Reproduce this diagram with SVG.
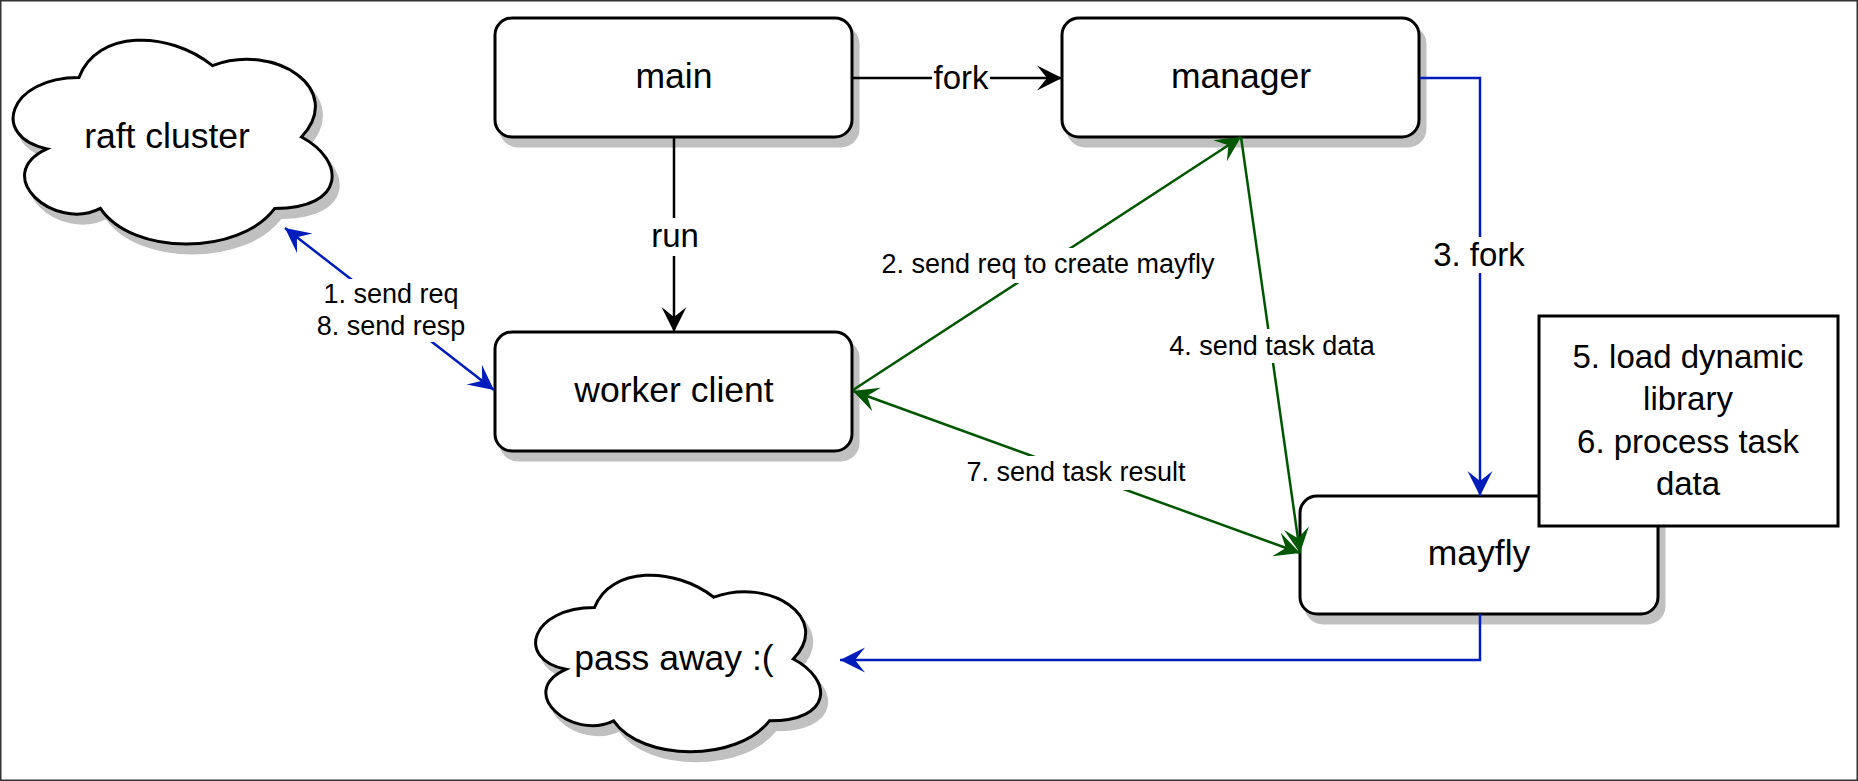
<svg xmlns="http://www.w3.org/2000/svg" xmlns:xlink="http://www.w3.org/1999/xlink" width="1858" height="781" viewBox="0 0 1858 781">
<style>
.box{fill:#ffffff;stroke:#000000;stroke-width:3}
.shadow{fill:#c0c0c0;stroke:#c0c0c0;stroke-width:3}
.t{font-family:"Liberation Sans",Arial,sans-serif;fill:#000000;text-anchor:middle}
.big{font-size:35.5px}
.mid{font-size:33px}
.sm{font-size:27px}
.blk{fill:none;stroke:#000000;stroke-width:2.5}
.blu{fill:none;stroke:#001DBC;stroke-width:2.5}
.grn{fill:none;stroke:#005700;stroke-width:2.5}
.bg{fill:#ffffff;stroke:none}
</style>
<defs>
<marker id="aBlk" markerUnits="userSpaceOnUse" markerWidth="30" markerHeight="30" viewBox="-27 -14 30 28" refX="0" refY="0" orient="auto-start-reverse"><path d="M0,0 L-25,-12.5 L-15,0 L-25,12.5 Z" fill="#000000"/></marker>
<marker id="aBlu" markerUnits="userSpaceOnUse" markerWidth="30" markerHeight="30" viewBox="-27 -14 30 28" refX="0" refY="0" orient="auto-start-reverse"><path d="M0,0 L-25,-12.5 L-15,0 L-25,12.5 Z" fill="#001DBC"/></marker>
<marker id="aGrn" markerUnits="userSpaceOnUse" markerWidth="30" markerHeight="30" viewBox="-27 -14 30 28" refX="0" refY="0" orient="auto-start-reverse"><path d="M0,0 L-25,-12.5 L-15,0 L-25,12.5 Z" fill="#005700"/></marker>
<path id="cloud1" d="M79,77.5 C7.8,77.5 -10,137 47,148.9 C-10,175.1 54.1,232.2 100.4,208.4 C132.4,256 239.2,256 274.8,208.4 C346,208.4 346,160.8 301.5,137 C346,89.4 274.8,41.8 212.5,65.6 C168,29.9 96.8,29.9 79,77.5 Z"/>
<path id="cloud2" d="M594.5,607.5 C530.9,607.5 515,659 565.9,669.3 C515,692 572.2,741.4 613.6,720.8 C642.2,762 737.6,762 769.4,720.8 C833,720.8 833,679.6 793.3,659 C833,617.8 769.4,576.6 713.8,597.2 C674,566.3 610.4,566.3 594.5,607.5 Z"/>
</defs>
<rect x="0" y="0" width="1858" height="781" fill="#ffffff"/>
<rect x="0.75" y="0.75" width="1856.5" height="779.5" fill="none" stroke="#333333" stroke-width="1.5"/>

<g id="raft-cluster">
<use xlink:href="#cloud1" class="shadow" transform="translate(6,9)"/>
<use xlink:href="#cloud1" class="box"/>
<text class="t big" x="167" y="148">raft cluster</text>
</g>

<g id="main">
<rect class="shadow" x="501" y="27" width="357" height="119" rx="17"/>
<rect class="box" x="495" y="18" width="357" height="119" rx="17"/>
<text class="t big" x="674" y="88">main</text>
</g>

<g id="manager">
<rect class="shadow" x="1068" y="27" width="357" height="119" rx="17"/>
<rect class="box" x="1062" y="18" width="357" height="119" rx="17"/>
<text class="t big" x="1241" y="88">manager</text>
</g>

<g id="worker-client">
<rect class="shadow" x="501" y="341" width="357" height="119" rx="17"/>
<rect class="box" x="495" y="332" width="357" height="119" rx="17"/>
<text class="t big" x="674" y="402">worker client</text>
</g>

<g id="mayfly">
<rect class="shadow" x="1306" y="505" width="358" height="118" rx="17"/>
<rect class="box" x="1300" y="496" width="358" height="118" rx="17"/>
<text class="t big" x="1479" y="565">mayfly</text>
</g>

<g id="pass-away">
<use xlink:href="#cloud2" class="shadow" transform="translate(6,9)"/>
<use xlink:href="#cloud2" class="box"/>
<text class="t big" x="674" y="670">pass away :(</text>
</g>

<g id="process-note">
<rect class="box" x="1539" y="316" width="299" height="210"/>
<text class="t mid" x="1688" y="368">5. load dynamic</text>
<text class="t mid" x="1688" y="410">library</text>
<text class="t mid" x="1688" y="453">6. process task</text>
<text class="t mid" x="1688" y="495">data</text>
</g>

<g id="connectors">
<path class="blk" d="M674,137 V332" marker-end="url(#aBlk)"/>
<path class="blk" d="M853,78 H1062" marker-end="url(#aBlk)"/>
<path class="blu" d="M1420,78 H1480 V496" marker-end="url(#aBlu)"/>
<path class="blu" d="M1480,614 V660 H840" marker-end="url(#aBlu)"/>
<path class="blu" d="M285,228 L494,390" marker-start="url(#aBlu)" marker-end="url(#aBlu)"/>
<path class="grn" d="M853,390 L1241,137" marker-end="url(#aGrn)"/>
<path class="grn" d="M1241,137 L1300,553" marker-end="url(#aGrn)"/>
<path class="grn" d="M853,391 L1300,553" marker-start="url(#aGrn)" marker-end="url(#aGrn)"/>

<rect class="bg" x="932" y="61" width="58" height="34"/>
<text class="t mid" x="961" y="89">fork</text>
<rect class="bg" x="650" y="218" width="50" height="38"/>
<text class="t mid" x="675" y="247">run</text>
<rect class="bg" x="1432" y="237" width="94" height="36"/>
<text class="t mid" x="1479" y="266">3. fork</text>
<rect class="bg" x="314" y="279" width="154" height="63"/>
<text class="t sm" x="391" y="303">1. send req</text>
<text class="t sm" x="391" y="335">8. send resp</text>
<rect class="bg" x="880" y="248" width="336" height="35"/>
<text class="t sm" x="1048" y="273">2. send req to create mayfly</text>
<rect class="bg" x="1169" y="329" width="206" height="34"/>
<text class="t sm" x="1272" y="355">4. send task data</text>
<rect class="bg" x="965" y="456" width="222" height="34"/>
<text class="t sm" x="1076" y="481">7. send task result</text>
</g>
</svg>
